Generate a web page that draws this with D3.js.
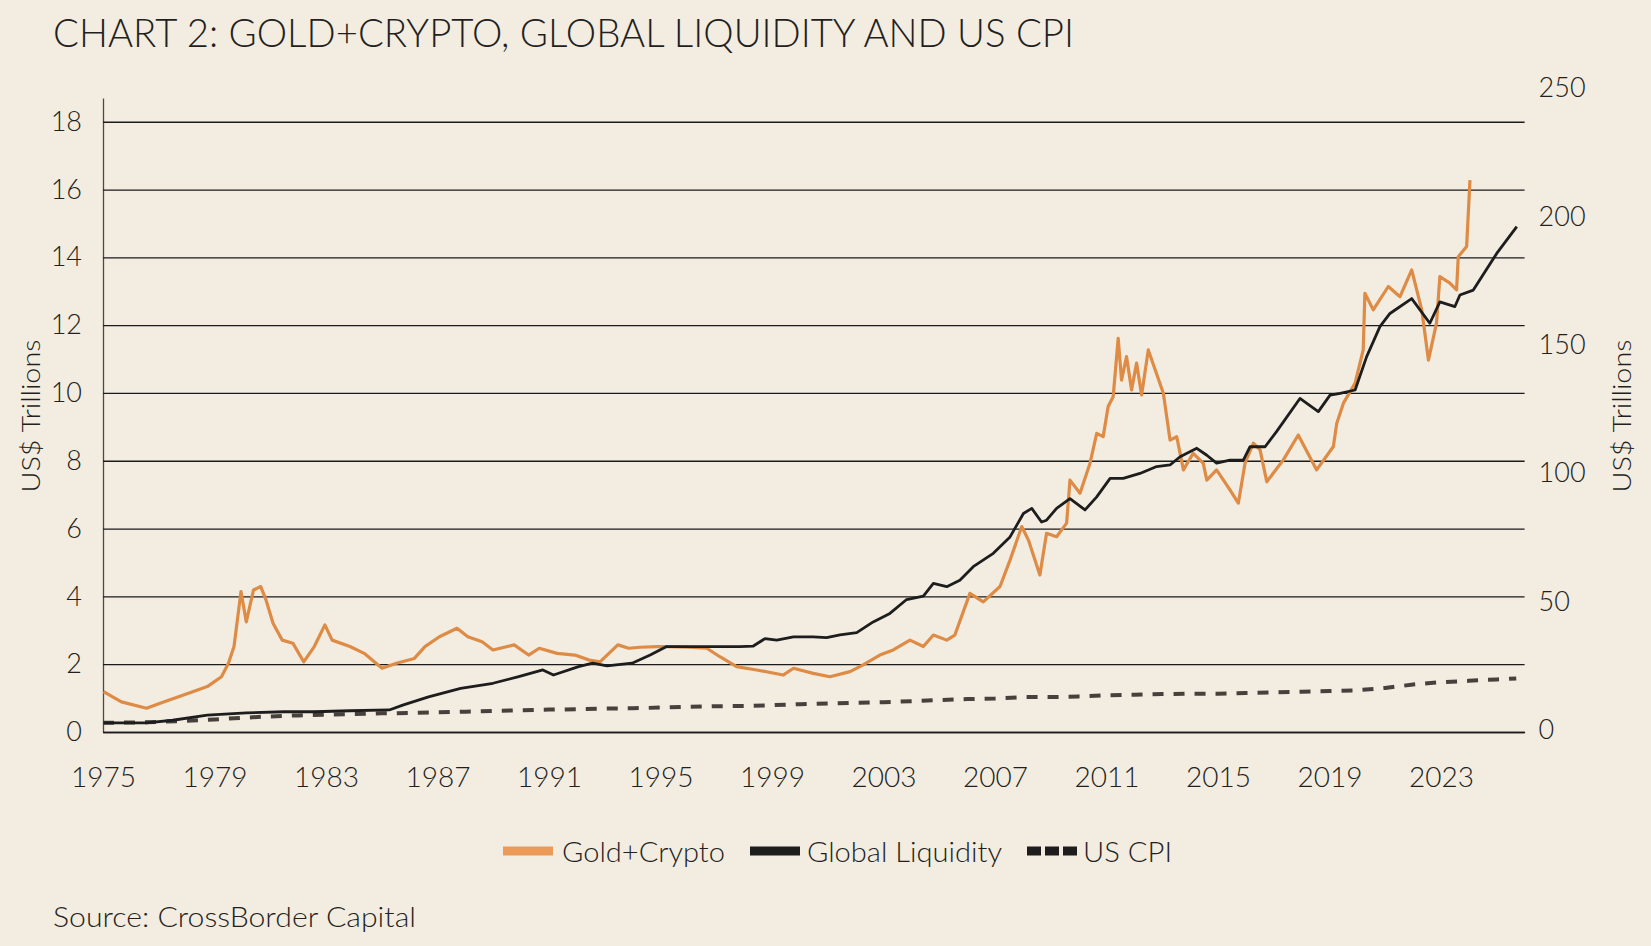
<!DOCTYPE html>
<html><head><meta charset="utf-8">
<script src="https://cdn.jsdelivr.net/npm/d3@7"></script>
<style>
body{margin:0;background:#f3ece1;}
svg{display:block;}
text{font-family:Lato,"Open Sans",sans-serif;fill:#231f20;font-weight:300;}
</style>
</head><body>
<svg id="c" width="1651" height="946"></svg>
<script>
const title = "CHART 2: GOLD+CRYPTO, GLOBAL LIQUIDITY AND US CPI";
const sourceText = "Source: CrossBorder Capital";
const axisTitle = "US$ Trillions";
const seriesNames = ["Gold+Crypto", "Global Liquidity", "US CPI"];
const xTickYears = [1975,1979,1983,1987,1991,1995,1999,2003,2007,2011,2015,2019,2023];
const leftTicks = [0,2,4,6,8,10,12,14,16,18];
const rightTicks = [0,50,100,150,200,250];

// Gold+Crypto, US$ trillions (left axis)
const goldYears = [1975.02,1975.66,1976.56,1977.2,1978.22,1978.74,1979.25,1979.5,1979.7,1979.95,1980.14,1980.4,1980.66,1980.85,1981.1,1981.43,1981.81,1982.2,1982.58,1982.96,1983.22,1983.86,1984.37,1985.01,1985.53,1986.17,1986.55,1987.07,1987.7,1988.09,1988.6,1988.99,1989.75,1990.27,1990.65,1991.29,1991.93,1992.45,1992.83,1993.47,1993.86,1994.26,1994.88,1995.22,1996.0,1996.66,1997.13,1997.73,1998.45,1999.4,1999.77,2000.48,2001.08,2001.8,2002.27,2002.87,2003.35,2003.95,2004.43,2004.79,2005.27,2005.56,2006.1,2006.58,2007.18,2007.54,2007.96,2008.2,2008.61,2008.85,2009.21,2009.57,2009.69,2010.05,2010.41,2010.65,2010.88,2011.06,2011.24,2011.42,2011.54,2011.72,2011.9,2012.08,2012.26,2012.5,2013.04,2013.28,2013.52,2013.76,2014.11,2014.47,2014.6,2014.95,2015.43,2015.73,2015.97,2016.27,2016.51,2016.75,2017.34,2017.88,2018.54,2019.14,2019.26,2019.5,2019.92,2020.21,2020.27,2020.57,2021.11,2021.53,2021.95,2022.31,2022.55,2022.84,2022.96,2023.32,2023.56,2023.62,2023.92,2024.04];
const goldValues = [1.19,0.89,0.70,0.89,1.19,1.34,1.63,2.03,2.52,4.14,3.25,4.19,4.29,3.89,3.21,2.71,2.62,2.07,2.52,3.16,2.71,2.52,2.32,1.88,2.03,2.17,2.52,2.81,3.06,2.81,2.66,2.42,2.57,2.27,2.47,2.32,2.27,2.12,2.07,2.57,2.47,2.50,2.52,2.52,2.50,2.47,2.22,1.93,1.83,1.68,1.88,1.73,1.63,1.78,1.98,2.27,2.42,2.71,2.52,2.86,2.71,2.86,4.09,3.84,4.29,5.07,6.06,5.66,4.63,5.86,5.76,6.16,7.43,7.04,7.93,8.81,8.71,9.6,9.89,11.61,10.38,11.07,10.09,10.88,9.94,11.27,9.99,8.61,8.71,7.73,8.22,7.93,7.43,7.73,7.14,6.75,7.93,8.52,8.32,7.38,8.02,8.76,7.73,8.42,9.1,9.7,10.29,11.27,12.94,12.45,13.14,12.84,13.63,12.45,10.97,12.06,13.43,13.24,13.04,14.02,14.32,16.28];

// Global Liquidity, US$ trillions (right axis)
const liqYears = [1975.02,1976.56,1977.5,1978.74,1980.14,1981.5,1982.58,1983.86,1985.27,1985.78,1986.68,1987.83,1988.99,1989.88,1990.78,1991.16,1992.06,1992.57,1993.08,1993.98,1994.63,1995.22,1996.66,1997.85,1998.33,1998.75,1999.17,1999.77,2000.48,2000.96,2001.44,2002.04,2002.63,2003.23,2003.83,2004.43,2004.79,2005.27,2005.74,2006.22,2006.94,2007.54,2008.02,2008.32,2008.67,2008.85,2009.21,2009.69,2010.23,2010.65,2011.13,2011.6,2012.2,2012.8,2013.28,2013.64,2014.24,2014.6,2014.95,2015.43,2015.91,2016.15,2016.69,2017.1,2017.94,2018.6,2019.02,2019.38,2019.92,2020.33,2020.81,2021.17,2021.95,2022.6,2022.96,2023.5,2023.68,2024.16,2025.0,2025.72];
const liqValues = [2.8,2.8,3.8,5.8,6.7,7.1,7.1,7.5,7.8,9.8,12.9,16.2,18.2,20.7,23.4,21.4,24.7,26.0,25.0,26.0,29.2,32.5,32.5,32.5,32.7,35.6,35.0,36.3,36.3,36.0,37.0,37.9,42.1,45.4,50.8,52.1,57.1,55.8,58.3,63.6,68.8,75.2,84.3,86.3,81.0,81.7,86.3,90.1,85.7,90.8,98.0,98.0,99.9,102.6,103.2,106.4,109.7,107.0,103.9,105.1,105.1,110.3,110.3,116.2,129.1,124.0,130.4,131.1,132.4,145.3,157.1,162.2,168.0,158.4,166.7,164.9,169.4,171.3,185.6,196.0];

// US CPI (scaled, left axis)
const cpiYears = [1975,1976,1977,1978,1979,1980,1981,1982,1983,1984,1985,1986,1987,1988,1989,1990,1991,1992,1993,1994,1995,1996,1997,1998,1999,2000,2001,2002,2003,2004,2005,2006,2007,2008,2009,2010,2011,2012,2013,2014,2015,2016,2017,2018,2019,2020,2021,2022,2023,2024,2025,2025.7];
const cpiValues = [0.27,0.28,0.30,0.33,0.37,0.42,0.46,0.49,0.51,0.53,0.55,0.56,0.58,0.60,0.62,0.64,0.66,0.67,0.69,0.70,0.72,0.74,0.76,0.77,0.79,0.82,0.84,0.86,0.88,0.91,0.94,0.97,0.99,1.03,1.03,1.05,1.08,1.10,1.12,1.13,1.13,1.15,1.17,1.19,1.21,1.23,1.30,1.40,1.47,1.51,1.55,1.58];

const svg = d3.select("#c");
svg.append("rect").attr("width",1651).attr("height",946).attr("fill","#f3ece1");

const x = d3.scaleLinear().domain([1975, 2026]).range([103, 1524.6]);
const yL = d3.scaleLinear().domain([0, 18.7]).range([732, 98]);
const yR = d3.scaleLinear().domain([0, 250]).range([730, 88]);

// left axis + gridlines
const gL = svg.append("g").attr("transform","translate(103,0)")
  .call(d3.axisLeft(yL).tickValues(leftTicks).tickSizeInner(-(1524.6-103)).tickSizeOuter(0).tickPadding(21));
gL.select(".domain").attr("stroke","#4a4a4a").attr("stroke-width",1.3);
gL.selectAll(".tick line").attr("stroke","#1b1b1b").attr("stroke-width",1.3);
gL.selectAll(".tick text").attr("font-size",27).attr("fill","#231f20").style("font-family","Lato");

// bottom axis
const gB = svg.append("g").attr("transform","translate(0,732)")
  .call(d3.axisBottom(x).tickValues(xTickYears).tickFormat(d3.format("d")).tickSize(0).tickPadding(35));
gB.select(".domain").attr("stroke","#1b1b1b").attr("stroke-width",1.5);
gB.selectAll(".tick text").attr("font-size",28).attr("fill","#231f20").style("font-family","Lato");

// right axis
const gR = svg.append("g").attr("transform","translate(1524.6,0)")
  .call(d3.axisRight(yR).tickValues(rightTicks).tickSize(0).tickPadding(14));
gR.select(".domain").remove();
gR.selectAll(".tick text").attr("font-size",27).attr("fill","#231f20").style("font-family","Lato");

// series
const lineL = d3.line().x(d=>x(d[0])).y(d=>yL(d[1]));
const lineR = d3.line().x(d=>x(d[0])).y(d=>yR(d[1]));
const cpi = d3.zip(cpiYears, cpiValues);
const gold = d3.zip(goldYears, goldValues);
const liq = d3.zip(liqYears, liqValues);

svg.append("path").datum(cpi).attr("d", lineL).attr("fill","none")
  .attr("stroke","#46413c").attr("stroke-width",4).attr("stroke-dasharray","11,10");
svg.append("path").datum(gold).attr("d", lineL).attr("fill","none")
  .attr("stroke","#de8b45").attr("stroke-width",3.2).attr("stroke-linejoin","round");
svg.append("path").datum(liq).attr("d", lineR).attr("fill","none")
  .attr("stroke","#1d1d1d").attr("stroke-width",2.8).attr("stroke-linejoin","round");

// title
svg.append("text").attr("x",53).attr("y",47).attr("font-size",40)
  .attr("textLength",1021).attr("lengthAdjust","spacingAndGlyphs").text(title);

// axis titles
svg.append("text").attr("transform","translate(30,416) rotate(-90)")
  .attr("text-anchor","middle").attr("dominant-baseline","central").attr("font-size",26)
  .attr("textLength",153).attr("lengthAdjust","spacingAndGlyphs").text(axisTitle);
svg.append("text").attr("transform","translate(1621,416) rotate(-90)")
  .attr("text-anchor","middle").attr("dominant-baseline","central").attr("font-size",26)
  .attr("textLength",153).attr("lengthAdjust","spacingAndGlyphs").text(axisTitle);

// legend
const legend = [
  {name: seriesNames[0], color:"#ec9a57", dash:null, sx:503, tx:562, tl:163},
  {name: seriesNames[1], color:"#1d1d1d", dash:null, sx:750, tx:807, tl:195},
  {name: seriesNames[2], color:"#1d1d1d", dash:"14,4", sx:1027, tx:1083, tl:89}
];
const lg = svg.append("g");
legend.forEach(l => {
  lg.append("line").attr("x1",l.sx).attr("x2",l.sx+50).attr("y1",851).attr("y2",851)
    .attr("stroke",l.color).attr("stroke-width",9).attr("stroke-dasharray",l.dash);
  lg.append("text").attr("x",l.tx).attr("y",851).attr("dominant-baseline","central")
    .attr("font-size",28).attr("textLength",l.tl).attr("lengthAdjust","spacingAndGlyphs").text(l.name);
});

// source
svg.append("text").attr("x",53).attr("y",916).attr("dominant-baseline","central")
  .attr("font-size",28).attr("textLength",363).attr("lengthAdjust","spacingAndGlyphs").text(sourceText);
</script>
</body></html>
